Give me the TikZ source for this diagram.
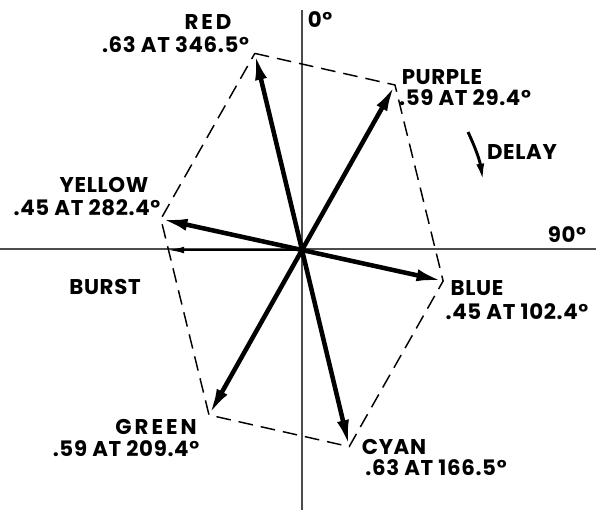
\documentclass[tikz,border=0pt]{standalone}
\usepackage{fontspec}
\setsansfont{Poppins}[LetterSpace=3]
\usetikzlibrary{arrows.meta}
\tikzset{
  lbl/.style={font=\sffamily\bfseries\fontsize{16}{16}\selectfont, inner sep=0pt},
  widelbl/.style={lbl, font=\sffamily\bfseries\fontsize{16}{16}\selectfont\addfontfeature{LetterSpace=14}},
  vec/.style={line width=3.4pt, -{Latex[length=20pt,width=9pt]}},
  axis/.style={line width=1.4pt, black!70},
  hexa/.style={line width=1.1pt, dash pattern=on 11pt off 6pt}
}
\begin{document}
\begin{tikzpicture}[x=0.75pt, y=-0.75pt]
\useasboundingbox (0,0) rectangle (596,510);
% assi
\draw[axis] (302,10) -- (302,510);
\draw[axis] (0,249) -- (596,249);
\coordinate (o) at (302,250);
% vettori (angolo di ritardo in senso orario da 0 gradi)
\begin{scope}[shift={(302,250)}]
\coordinate (red) at (256.5:202.2);
\coordinate (purple) at (-60.6:189.4);
\coordinate (blue) at (12.4:144.5);
\coordinate (cyan) at (76.5:202.2);
\coordinate (green) at (119.4:189.4);
\coordinate (yellow) at (192.4:144.5);
\coordinate (burst) at (180:134);
\end{scope}
% esagono
\draw[hexa] (red) -- (purple) -- (blue) -- (cyan) -- (green) -- (yellow) -- cycle;
\foreach \c in {red,purple,blue,cyan,green,yellow}
  \draw[vec] (o) -- (\c);
\draw[line width=1.4pt, -{Latex[length=12pt,width=5pt]}] (o) -- (burst);
% ritardo
\coordinate (d1) at (468,132);
\coordinate (d2) at (483,181);
\draw[line width=2.2pt, -{Latex[length=13pt,width=6pt]}] (d1) to[bend left=8] (d2);
% etichette
\node[lbl] (zero) at (320,20) {0°};
\node[lbl] (ninety) at (567,235) {90°};
\node[lbl] (delay) at (522,152) {DELAY};
\node[lbl] (burstlbl) at (105,287) {BURST};
\node[widelbl] (redname) at (208,22) {RED};
\node[lbl] (redval) at (175.5,45) {.63 AT 346.5°};
\node[lbl] (purplename) at (442,77) {PURPLE};
\node[lbl] (purpleval) at (465,98) {.59 AT 29.4°};
\node[lbl] (yellowname) at (104,185) {YELLOW};
\node[lbl] (yellowval) at (87,208) {.45 AT 282.4°};
\node[lbl] (bluename) at (477,288) {BLUE};
\node[lbl] (blueval) at (517,312) {.45 AT 102.4°};
\node[widelbl] (greenname) at (156,427) {GREEN};
\node[lbl] (greenval) at (126,449) {.59 AT 209.4°};
\node[lbl] (cyanname) at (394,447) {CYAN};
\node[lbl] (cyanval) at (436,468) {.63 AT 166.5°};
\end{tikzpicture}
\end{document}
